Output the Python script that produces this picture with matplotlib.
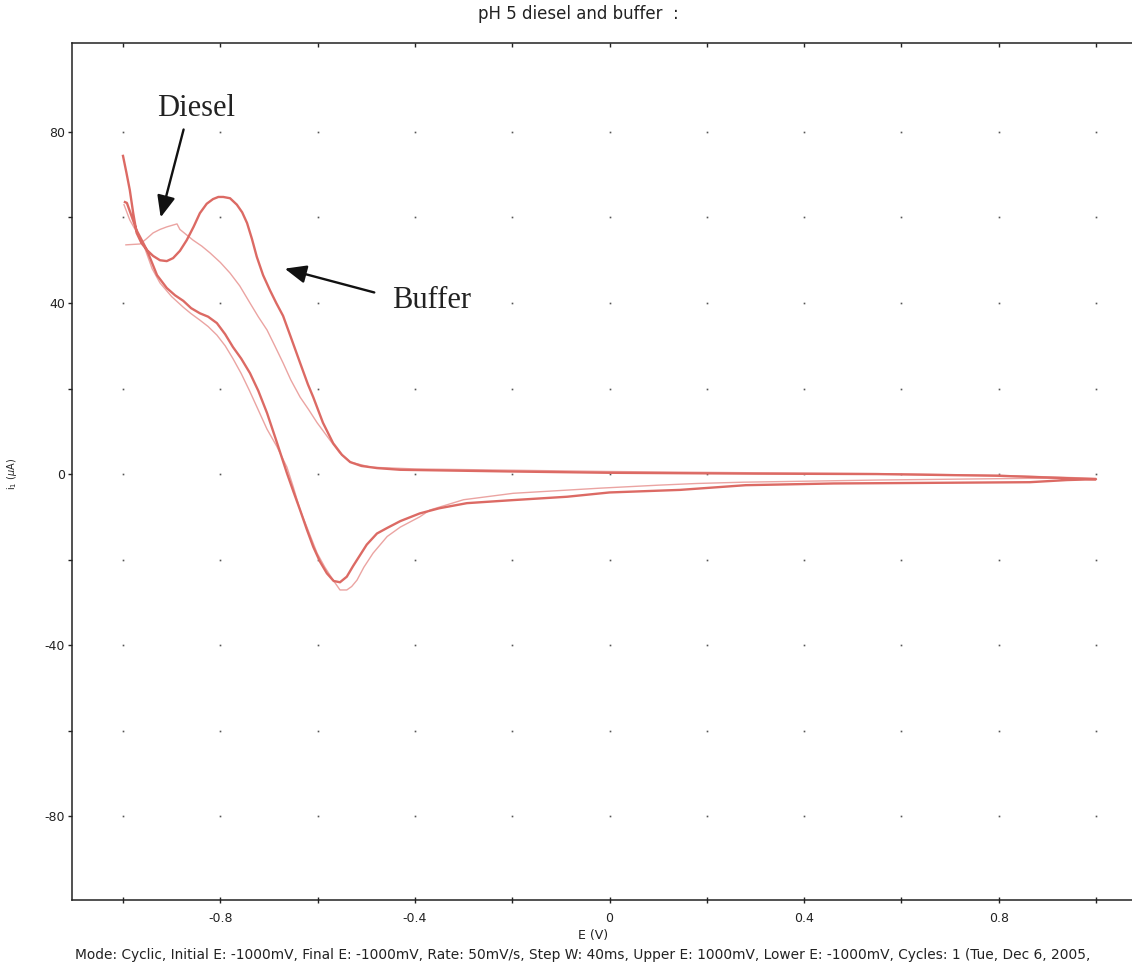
import matplotlib
matplotlib.use("Agg")
import matplotlib.pyplot as plt
import numpy as np

# ---- data (E in V, current in uA) ----
buffer_fwd_E = [-1.0, -0.993, -0.986, -0.979, -0.972, -0.962, -0.951, -0.938, -0.924, -0.91, -0.897,
                -0.883, -0.869, -0.855, -0.842, -0.828, -0.815, -0.804, -0.794, -0.78, -0.766,
                -0.755, -0.745, -0.735, -0.725, -0.712, -0.698, -0.685, -0.671, -0.655, -0.636,
                -0.62, -0.609, -0.589, -0.568, -0.55, -0.533, -0.51, -0.478, -0.43, -0.2,
                0.0, 0.3, 0.55, 0.8, 1.0]
buffer_fwd_I = [74.4, 70.5, 66.4, 61.0, 56.4, 54.0, 52.4, 51.0, 50.0, 49.8, 50.5,
                52.2, 54.7, 57.8, 61.0, 63.2, 64.3, 64.8, 64.8, 64.5, 63.0,
                61.2, 58.7, 55.0, 50.8, 46.5, 43.0, 40.0, 37.0, 32.0, 26.0,
                21.0, 18.0, 12.0, 7.2, 4.5, 2.8, 1.9, 1.4, 1.0, 0.6,
                0.3, 0.1, 0.0, -0.4, -1.2]
buffer_rev_E = [1.0, 0.94, 0.864, 0.6, 0.46, 0.28, 0.145, 0.0, -0.087, -0.2, -0.293, -0.35,
                -0.39, -0.43, -0.457, -0.478, -0.499, -0.513, -0.527, -0.54, -0.554, -0.567,
                -0.581, -0.595, -0.609, -0.622, -0.636, -0.65, -0.663, -0.684, -0.704, -0.722,
                -0.739, -0.757, -0.774, -0.79, -0.807, -0.825, -0.842, -0.86, -0.876, -0.893,
                -0.91, -0.93, -0.951, -0.972, -0.992, -0.996]
buffer_rev_I = [-1.2, -1.4, -1.9, -2.1, -2.2, -2.6, -3.7, -4.3, -5.3, -6.1, -6.8, -8.0,
                -9.2, -11.0, -12.6, -13.9, -16.5, -19.0, -21.5, -24.0, -25.3, -25.0,
                -23.2, -20.5, -17.0, -13.0, -8.4, -4.0, 0.2, 7.5, 14.3, 19.5,
                23.6, 27.0, 29.7, 32.7, 35.3, 36.8, 37.6, 38.8, 40.5, 41.8,
                43.5, 46.5, 52.4, 57.0, 63.4, 63.6]

diesel_fwd_E = [-0.994, -0.965, -0.952, -0.938, -0.924, -0.91, -0.889, -0.883, -0.87, -0.856,
                -0.838, -0.821, -0.8, -0.78, -0.76, -0.739, -0.722, -0.704, -0.688, -0.671,
                -0.655, -0.636, -0.618, -0.601, -0.575, -0.555, -0.533, -0.49, -0.4, 0.0,
                0.3, 0.55, 0.8, 1.0]
diesel_fwd_I = [53.6, 53.8, 55.0, 56.4, 57.2, 57.8, 58.5, 57.2, 56.0, 54.7,
                53.3, 51.7, 49.5, 47.0, 44.0, 40.0, 36.8, 33.7, 30.0, 26.0,
                22.0, 18.0, 15.0, 12.0, 8.0, 5.0, 2.8, 1.6, 1.2, 0.6,
                0.3, 0.1, -0.3, -1.0]
diesel_rev_E = [1.0, 0.86, 0.55, 0.275, 0.18, 0.10, -0.02, -0.198, -0.30, -0.369, -0.39,
                -0.43, -0.457, -0.486, -0.505, -0.519, -0.53, -0.54, -0.554, -0.568, -0.585,
                -0.601, -0.622, -0.636, -0.65, -0.663, -0.684, -0.704, -0.722, -0.74, -0.757,
                -0.774, -0.79, -0.807, -0.825, -0.842, -0.86, -0.876, -0.9, -0.924, -0.94,
                -0.959, -0.986, -0.998]
diesel_rev_I = [-1.0, -1.0, -1.4, -1.9, -2.2, -2.6, -3.3, -4.5, -6.0, -8.4, -10.0,
                -12.4, -14.6, -18.5, -21.8, -24.8, -26.3, -27.1, -27.1, -24.8, -21.8,
                -18.5, -12.4, -8.4, -3.0, 1.6, 6.5, 10.5, 15.0, 19.5, 23.5,
                27.0, 30.0, 32.5, 34.5, 36.0, 37.5, 39.0, 41.5, 44.7, 48.0,
                54.0, 59.4, 63.0]

x_ticks = [-1.0, -0.8, -0.6, -0.4, -0.2, 0.0, 0.2, 0.4, 0.6, 0.8, 1.0]
x_labels = ["", "-0.8", "", "-0.4", "", "0", "", "0.4", "", "0.8", ""]
y_ticks = [-80, -60, -40, -20, 0, 20, 40, 60, 80]
y_labels = ["-80", "", "-40", "", "0", "", "40", "", "80"]

title = "pH 5 diesel and buffer  :"
footer = ("Mode: Cyclic, Initial E: -1000mV, Final E: -1000mV, Rate: 50mV/s, Step W: 40ms, "
          "Upper E: 1000mV, Lower E: -1000mV, Cycles: 1 (Tue, Dec 6, 2005,")

# ---- figure ----
W, H = 1132, 964
fig = plt.figure(figsize=(W / 100, H / 100), dpi=100)
ax = fig.add_axes([72 / W, (H - 900) / H, 1 - 72 / W, (900 - 43) / H])

ax.set_xlim(-1.0 - 51 / 486.5, 1.0 + 36 / 486.5)
ax.set_ylim(-99.6, 100.8)

# dotted grid
gx, gy = np.meshgrid(x_ticks, y_ticks)
ax.plot(gx.ravel(), gy.ravel(), ls="none", marker="s", ms=1.2, color="#555555", mec="none")

# curves
ax.plot(diesel_fwd_E + diesel_rev_E, diesel_fwd_I + diesel_rev_I,
        color="#eba4a2", lw=1.0, zorder=3)
ax.plot(buffer_fwd_E + buffer_rev_E, buffer_fwd_I + buffer_rev_I,
        color="#dc6a64", lw=1.7, zorder=4)

# annotations
ax.annotate("", xy=(-0.924, 59.4), xytext=(-0.874, 81.2),
            arrowprops=dict(arrowstyle="-|>,head_length=1.3,head_width=0.55",
                            color="#111111", lw=1.7))
ax.annotate("", xy=(-0.673, 48.2), xytext=(-0.478, 42.3),
            arrowprops=dict(arrowstyle="-|>,head_length=1.3,head_width=0.55",
                            color="#111111", lw=1.7))
ax.text(-0.85, 85.6, "Diesel", family="Liberation Serif", fontsize=22,
        ha="center", va="center", color="#222222")
ax.text(-0.365, 40.7, "Buffer", family="Liberation Serif", fontsize=22,
        ha="center", va="center", color="#222222")

# axes styling
for s in ["left", "bottom", "top"]:
    ax.spines[s].set_linewidth(1.1)
    ax.spines[s].set_color("#222222")
ax.spines["right"].set_visible(False)

ax.set_xticks(x_ticks)
ax.set_xticklabels(x_labels)
ax.set_yticks(y_ticks)
ax.set_yticklabels(y_labels)
ax.tick_params(axis="x", direction="inout", length=5, width=1, labelsize=9,
               pad=6, colors="#222222")
ax.tick_params(axis="y", direction="out", length=3, width=1, labelsize=9,
               pad=2, colors="#222222")
top = ax.secondary_xaxis("top")
top.set_xticks(x_ticks)
top.set_xticklabels([])
top.tick_params(direction="in", length=3, width=1, colors="#222222")
top.spines["top"].set_visible(False)

fig.text(578 / W, 1 - 14 / H, title, ha="center", va="center", fontsize=12, color="#222222")
fig.text(593 / W, 1 - 935 / H, "E (V)", ha="center", va="center", fontsize=9, color="#222222")
fig.text(12 / W, 1 - 474 / H, r"i$_1$ ($\mu$A)", ha="center", va="center", rotation=90,
         fontsize=7, color="#222222")
fig.text(75 / W, 1 - 955 / H, footer, ha="left", va="center", fontsize=9.9, color="#222222")

fig.savefig("out.png", dpi=100)
